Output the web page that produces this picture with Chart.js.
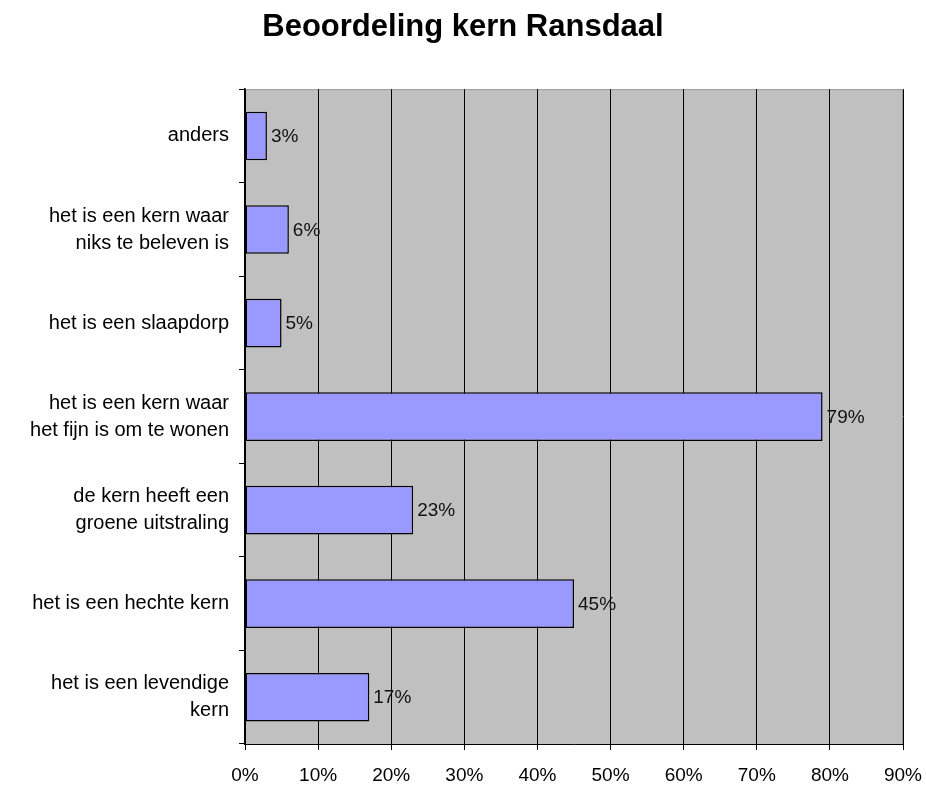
<!DOCTYPE html>
<html lang="nl">
<head>
    <meta charset="UTF-8">
    <title>Beoordeling kern Ransdaal</title>
    <script src="https://cdn.jsdelivr.net/npm/chart.js"></script>
    <style>
        * { margin: 0; padding: 0; box-sizing: border-box; }
        body { background: #fff; width: 926px; height: 790px; overflow: hidden; }
        .chart-container { position: relative; width: 926px; height: 790px; }
    </style>
</head>
<body>
    <div class="chart-container">
        <canvas id="kernChart"></canvas>
    </div>

    <script>
        const categories = [
            'anders',
            ['het is een kern waar', 'niks te beleven is'],
            'het is een slaapdorp',
            ['het is een kern waar', 'het fijn is om te wonen'],
            ['de kern heeft een', 'groene uitstraling'],
            'het is een hechte kern',
            ['het is een levendige', 'kern']
        ];
        const percentages = [3, 6, 5, 79, 23, 45, 17];
        const xTicks = [0, 10, 20, 30, 40, 50, 60, 70, 80, 90];

        const FONT = 'Liberation Sans, Arial, sans-serif';

        // grijze achtergrond van het plotvlak + waardelabels
        const plotBg = {
            id: 'plotBg',
            beforeDraw(chart) {
                const { ctx, chartArea: a } = chart;
                ctx.save();
                ctx.fillStyle = '#c0c0c0';
                ctx.fillRect(a.left, a.top, a.right - a.left, a.bottom - a.top);
                ctx.strokeStyle = '#9a9a9a';
                ctx.lineWidth = 1;
                ctx.beginPath();
                ctx.moveTo(a.left, a.top + 0.5);
                ctx.lineTo(a.right - 0.5, a.top + 0.5);
                ctx.lineTo(a.right - 0.5, a.bottom);
                ctx.stroke();
                ctx.restore();
            },
            afterDatasetsDraw(chart) {
                const ctx = chart.ctx;
                const meta = chart.getDatasetMeta(0);
                ctx.save();
                ctx.font = '19px ' + FONT;
                ctx.fillStyle = '#111';
                ctx.textAlign = 'left';
                ctx.textBaseline = 'middle';
                meta.data.forEach((bar, i) => {
                    ctx.fillText(percentages[i] + '%', bar.x + 4, bar.y + 1);
                });
                ctx.restore();
            }
        };

        new Chart(document.getElementById('kernChart'), {
            type: 'bar',
            data: {
                labels: categories,
                datasets: [{
                    data: percentages,
                    backgroundColor: '#9999ff',
                    borderColor: '#000',
                    borderWidth: 1.5,
                    borderSkipped: false,
                    categoryPercentage: 1,
                    barPercentage: 0.52
                }]
            },
            options: {
                indexAxis: 'y',
                responsive: true,
                maintainAspectRatio: false,
                animation: false,
                layout: { padding: 0 },
                plugins: {
                    legend: { display: false },
                    tooltip: { enabled: false },
                    title: {
                        display: true,
                        text: 'Beoordeling kern Ransdaal',
                        color: '#000',
                        font: { family: FONT, size: 31, weight: 'bold' },
                        padding: { top: 9, bottom: 43 }
                    }
                },
                scales: {
                    x: {
                        min: 0,
                        max: 90,
                        afterBuildTicks(axis) {
                            axis.ticks = xTicks.map(v => ({ value: v }));
                        },
                        afterFit(axis) {
                            axis.height = 46;
                            axis.paddingLeft = 0;
                            axis.paddingRight = 23;
                        },
                        border: { color: '#000', width: 1 },
                        grid: {
                            color: '#000',
                            lineWidth: 1,
                            drawTicks: true,
                            tickLength: 6
                        },
                        ticks: {
                            color: '#000',
                            font: { family: FONT, size: 19 },
                            padding: 14,
                            maxRotation: 0,
                            callback: v => v + '%'
                        }
                    },
                    y: {
                        afterFit(axis) { axis.width = 245; },
                        border: { color: '#000', width: 1.5 },
                        grid: {
                            color: '#000',
                            drawOnChartArea: false,
                            drawTicks: true,
                            tickLength: 6
                        },
                        ticks: {
                            color: '#000',
                            font: { family: FONT, size: 20, lineHeight: 1.35 },
                            padding: 10
                        }
                    }
                }
            },
            plugins: [plotBg]
        });
    </script>
</body>
</html>
